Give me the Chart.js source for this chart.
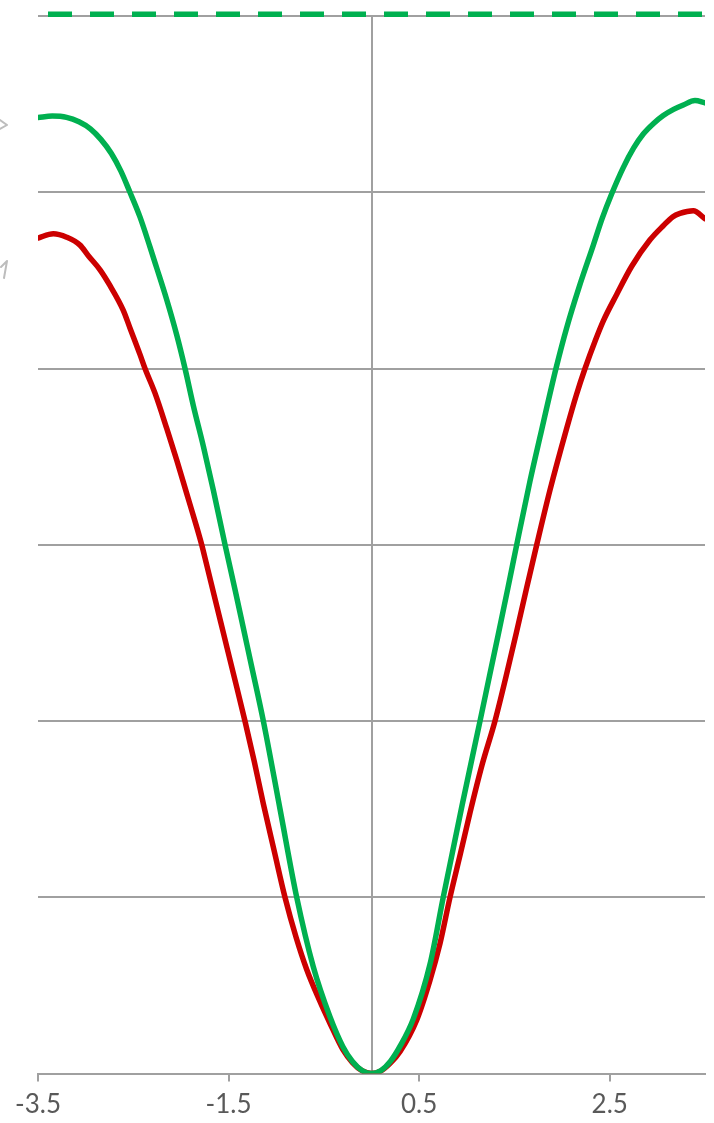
<!DOCTYPE html>
<html>
<head>
<meta charset="utf-8">
<script src="https://cdn.jsdelivr.net/npm/chart.js@4.4.1/dist/chart.umd.min.js"></script>
<style>
  html, body { margin: 0; padding: 0; background: #ffffff; }
  #chart { display: block; }
</style>
</head>
<body>
<canvas id="chart" width="714" height="1123"></canvas>
<script>
// Upper (green) curve
const greenX = [-3.5, -3.35, -3.2, -3.07, -2.95, -2.84, -2.73, -2.63, -2.535, -2.43,
  -2.325, -2.254, -2.149, -2.044, -1.957, -1.87, -1.765, -1.66, -1.537, -1.43,
  -1.33, -1.258, -1.135, -0.96, -0.785, -0.611, -0.436, -0.3, -0.2, -0.1,
  0, 0.1, 0.2, 0.3, 0.439, 0.614, 0.753, 0.95, 1.139, 1.244,
  1.33, 1.43, 1.524, 1.663, 1.768, 1.936, 2.048, 2.178, 2.328, 2.42,
  2.52, 2.642, 2.75, 2.852, 2.96, 3.062, 3.17, 3.272, 3.395, 3.5];
const greenY = [5.424, 5.432, 5.425, 5.40, 5.36, 5.30, 5.22, 5.12, 5.0, 4.86,
  4.69, 4.57, 4.39, 4.19, 4.0, 3.79, 3.56, 3.31, 3.0, 2.74,
  2.49, 2.31, 2.0, 1.50, 1.0, 0.606, 0.322, 0.152, 0.068, 0.017,
  0, 0.017, 0.07, 0.155, 0.31, 0.62, 1.0, 1.52, 2.0, 2.27,
  2.49, 2.75, 3.0, 3.36, 3.61, 4.0, 4.23, 4.46, 4.70, 4.85,
  4.99, 5.14, 5.25, 5.33, 5.39, 5.435, 5.47, 5.495, 5.52, 5.507];

// Lower (red) curve
const redX = [-3.5, -3.339, -3.199, -3.059, -2.972, -2.849, -2.744, -2.605, -2.535, -2.43,
  -2.377, -2.272, -2.149, -2.044, -1.939, -1.834, -1.782, -1.736, -1.65, -1.55,
  -1.45, -1.328, -1.23, -1.135, -1.02, -0.908, -0.79, -0.68, -0.55, -0.436,
  -0.3, -0.2, -0.1, 0, 0.1, 0.2, 0.3, 0.474, 0.614, 0.72,
  0.824, 0.93, 1.034, 1.16, 1.296, 1.411, 1.52, 1.63, 1.734, 1.873,
  2.048, 2.15, 2.241, 2.35, 2.433, 2.573, 2.731, 2.923, 3.062, 3.16,
  3.237, 3.377, 3.5];
const redY = [4.74, 4.765, 4.745, 4.70, 4.64, 4.56, 4.47, 4.33, 4.23, 4.08,
  4.0, 3.86, 3.66, 3.48, 3.29, 3.10, 3.0, 2.90, 2.71, 2.49,
  2.27, 2.0, 1.77, 1.53, 1.26, 1.0, 0.77, 0.59, 0.42, 0.285,
  0.135, 0.062, 0.016, 0, 0.015, 0.06, 0.125, 0.303, 0.53, 0.74,
  1.0, 1.24, 1.48, 1.75, 2.0, 2.25, 2.5, 2.76, 3.0, 3.31,
  3.66, 3.85, 4.0, 4.16, 4.27, 4.42, 4.58, 4.73, 4.81, 4.86,
  4.88, 4.895, 4.85];

// Dashed reference level
const levelX = [-3.5, 3.5];
const levelY = [6.01, 6.01];

// Tick positions
const xTicks = [-3.5, -1.5, 0.5, 2.5];
const yTicks = [0, 1, 2, 3, 4, 5, 6];

const pts = (xs, ys) => xs.map((x, i) => ({ x: x, y: ys[i] }));

const GRID = '#a0a0a0';

// Grey callout arrows entering from the left margin
const marginArrows = {
  id: 'marginArrows',
  afterDraw(chart) {
    const ctx = chart.ctx;
    ctx.save();
    ctx.strokeStyle = '#bdbdbd';
    ctx.lineWidth = 2;
    ctx.lineCap = 'round';
    ctx.lineJoin = 'round';
    // right-pointing head
    ctx.beginPath();
    ctx.moveTo(0, 120);
    ctx.lineTo(7, 125);
    ctx.lineTo(0, 129);
    ctx.stroke();
    // up-right pointing arrow
    ctx.beginPath();
    ctx.moveTo(4, 278);
    ctx.lineTo(7, 261);
    ctx.moveTo(7, 261);
    ctx.lineTo(1, 267);
    ctx.stroke();
    ctx.restore();
  }
};

const curveStyle = {
  showLine: true,
  borderWidth: 5.5,
  pointRadius: 0,
  cubicInterpolationMode: 'monotone',
  borderCapStyle: 'round',
  borderJoinStyle: 'round'
};

new Chart(document.getElementById('chart'), {
  type: 'scatter',
  data: {
    datasets: [
      Object.assign({ data: pts(greenX, greenY), borderColor: '#00b050' }, curveStyle),
      Object.assign({ data: pts(redX, redY), borderColor: '#cc0000' }, curveStyle),
      {
        data: pts(levelX, levelY),
        showLine: true,
        borderColor: '#00b050',
        borderWidth: 5.5,
        borderDash: [24, 18],
        borderDashOffset: 32,
        pointRadius: 0,
        clip: false
      }
    ]
  },
  options: {
    responsive: false,
    animation: false,
    devicePixelRatio: 1,
    layout: { padding: { left: 38, right: 9, top: 16, bottom: 0 } },
    plugins: { legend: { display: false }, tooltip: { enabled: false } },
    scales: {
      x: {
        type: 'linear',
        min: -3.5,
        max: 3.5,
        afterBuildTicks(scale) { scale.ticks = xTicks.map(v => ({ value: v })); },
        afterFit(scale) { scale.height = 49.5; },
        ticks: {
          autoSkip: false,
          maxRotation: 0,
          padding: 8,
          color: '#595959',
          font: { family: 'Lato', size: 26 },
          callback: v => v.toFixed(1)
        },
        grid: { drawOnChartArea: false, drawTicks: true, tickLength: 8, color: GRID, lineWidth: 2 },
        border: { display: true, color: GRID, width: 2 }
      },
      y: {
        type: 'linear',
        min: 0,
        max: 6,
        position: { x: 0 },
        afterBuildTicks(scale) { scale.ticks = yTicks.map(v => ({ value: v })); },
        ticks: { display: false },
        grid: { color: GRID, lineWidth: 2, drawTicks: false },
        border: { display: true, color: GRID, width: 2 }
      }
    }
  },
  plugins: [marginArrows]
});
</script>
</body>
</html>
